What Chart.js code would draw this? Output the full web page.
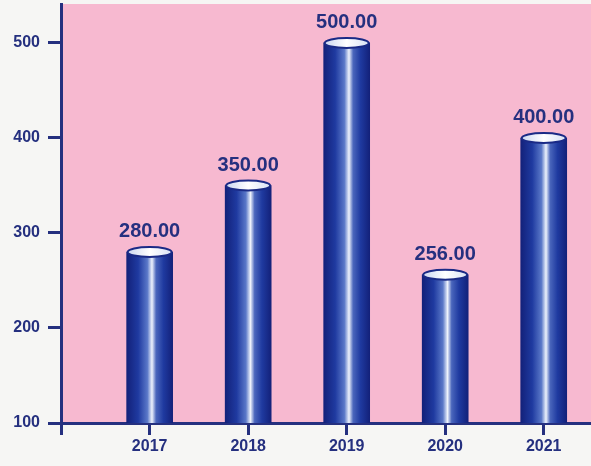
<!DOCTYPE html>
<html>
<head>
<meta charset="utf-8">
<script src="https://cdn.jsdelivr.net/npm/chart.js@4.4.0/dist/chart.umd.min.js"></script>
<style>
  html, body { margin: 0; padding: 0; background: #f6f6f4; }
  #wrap { width: 591px; height: 466px; }
</style>
</head>
<body>
<div id="wrap"><canvas id="chart"></canvas></div>
<script>
const years = [2017, 2018, 2019, 2020, 2021];
const values = [280, 350, 500, 256, 400];
const yTicks = [100, 200, 300, 400, 500];

const NAVY = "#25307f";
const PINK = "#f7b9d0";
const X_MIN = 2016.1;

// pink plot background
const plotBg = {
    id: "plotBg",
    beforeDraw(chart) {
        const { ctx, chartArea: a } = chart;
        ctx.save();
        ctx.fillStyle = PINK;
        ctx.fillRect(a.left, a.top, a.right - a.left, a.bottom - a.top);
        ctx.restore();
    }
};

// cylinder shading on each bar + cap + value label
const cylinder = {
    id: "cylinder",
    beforeDatasetsDraw(chart) {
        const { ctx } = chart;
        chart.getDatasetMeta(0).data.forEach(el => {
            const l = el.x - el.width / 2, r = el.x + el.width / 2;
            const g = ctx.createLinearGradient(l, 0, r, 0);
            g.addColorStop(0, "#13217a");
            g.addColorStop(0.25, "#1f3aa0");
            g.addColorStop(0.45, "#5a78c8");
            g.addColorStop(0.55, "#eef3fc");
            g.addColorStop(0.64, "#4a66bc");
            g.addColorStop(0.8, "#1f3aa0");
            g.addColorStop(1, "#13217a");
            el.options.backgroundColor = g;
        });
    },
    afterDatasetsDraw(chart) {
        const { ctx } = chart;
        const ds = chart.data.datasets[0];
        chart.getDatasetMeta(0).data.forEach((el, i) => {
            const rx = el.width / 2, ry = 5;
            const g = ctx.createLinearGradient(el.x - rx, 0, el.x + rx, 0);
            g.addColorStop(0, "#c9d6f0");
            g.addColorStop(0.5, "#ffffff");
            g.addColorStop(1, "#d6e0f4");
            ctx.save();
            ctx.beginPath();
            ctx.ellipse(el.x, el.y, rx - 1, ry, 0, 0, Math.PI * 2);
            ctx.fillStyle = g;
            ctx.fill();
            ctx.lineWidth = 2;
            ctx.strokeStyle = "#1a2a86";
            ctx.stroke();
            ctx.font = "bold 20px 'Liberation Sans', Arial, sans-serif";
            ctx.fillStyle = NAVY;
            ctx.textAlign = "center";
            ctx.textBaseline = "bottom";
            ctx.fillText(ds.data[i].y.toFixed(2), el.x, el.y - 10);
            ctx.restore();
        });
    }
};

new Chart(document.getElementById("chart"), {
    type: "bar",
    data: {
        datasets: [{
            data: years.map((yr, i) => ({ x: yr, y: values[i] })),
            backgroundColor: () => "#1f3aa0",
            borderWidth: 0,
            barThickness: 46
        }]
    },
    options: {
        responsive: true,
        maintainAspectRatio: false,
        animation: false,
        layout: { padding: { top: 4, right: 0, left: 0, bottom: 0 } },
        plugins: { legend: { display: false }, tooltip: { enabled: false } },
        scales: {
            x: {
                type: "linear",
                offset: false,
                min: X_MIN,
                max: 2021.48,
                afterFit: s => { s.height = 43; s.paddingLeft = 0; s.paddingRight = 0; },
                afterBuildTicks: s => { s.ticks = [{ value: X_MIN }].concat(years.map(v => ({ value: v }))); },
                border: { display: true, color: NAVY, width: 3 },
                grid: { offset: false, drawOnChartArea: false, color: NAVY, lineWidth: 3, tickLength: 12 },
                ticks: {
                    color: NAVY,
                    padding: 2,
                    font: { family: "'Liberation Sans', Arial, sans-serif", size: 16, weight: "bold" },
                    callback: v => (Number.isInteger(v) ? String(v) : "")
                }
            },
            y: {
                min: 100,
                max: 541,
                afterFit: s => { s.width = 61; s.paddingTop = 0; s.paddingBottom = 0; },
                afterBuildTicks: s => { s.ticks = yTicks.map(v => ({ value: v })); },
                border: { display: true, color: NAVY, width: 3 },
                grid: { drawOnChartArea: false, color: NAVY, lineWidth: 3, tickLength: 13 },
                ticks: {
                    color: NAVY,
                    padding: 8,
                    font: { family: "'Liberation Sans', Arial, sans-serif", size: 16, weight: "bold" }
                }
            }
        }
    },
    plugins: [plotBg, cylinder]
});
</script>
</body>
</html>
